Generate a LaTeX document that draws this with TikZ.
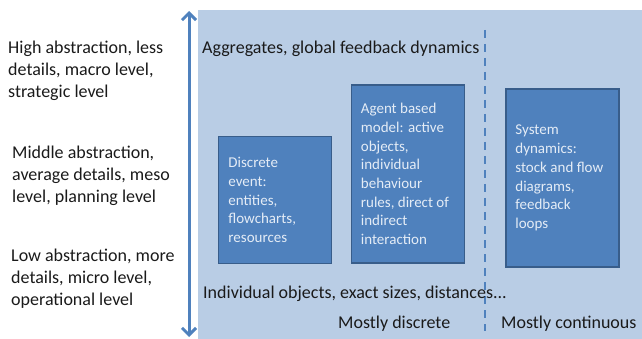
\documentclass[tikz,border=0pt]{standalone}
\usepackage{fontspec}
\setmainfont{Carlito}
\usetikzlibrary{arrows.meta}
\definecolor{bgblue}{HTML}{B9CDE5}
\definecolor{boxblue}{HTML}{4F81BD}
\definecolor{boxedge}{HTML}{385D8A}
\definecolor{boxtext}{HTML}{E4ECF6}
\definecolor{txt}{HTML}{1A1A1A}
\tikzset{
  bigtext/.style={font=\fontsize{18}{22}\selectfont, text=txt, align=left, inner sep=0pt, anchor=north west},
  modelbox/.style={draw=boxedge, line width=1.6pt, fill=boxblue, minimum width=113pt, inner sep=0pt},
  boxtextstyle/.style={text=boxtext, font=\fontsize{15}{18.7}\selectfont, align=left, inner sep=0pt, anchor=west},
  axisarrow/.style={draw=boxblue, line width=3pt, {Straight Barb[length=7pt,width=14pt,line width=3pt]}-{Straight Barb[length=7pt,width=14pt,line width=3pt]}},
  divider/.style={draw=boxblue, line width=1.8pt, dash pattern=on 8pt off 6pt}
}
\begin{document}
\begin{tikzpicture}[x=1pt,y=-1pt]
\useasboundingbox (0,0) rectangle (642,339);
\fill[bgblue] (198,10) rectangle (642,339);
% axis arrow
\coordinate (atop) at (189,11);
\coordinate (abot) at (189,337);
\draw[axisarrow] (abot) -- (atop);
% divider
\coordinate (dtop) at (485,30);
\coordinate (dbot) at (485,331);
\draw[divider] (dtop) -- (dbot);
% left labels
\node[bigtext] (high) at (8,41) {High abstraction, less\\details, macro level,\\strategic level};
\node[bigtext] (mid) at (12,146) {Middle abstraction,\\average details, meso\\level, planning level};
\node[bigtext] (low) at (11,249) {Low abstraction, more\\details, micro level,\\operational level};
% inside labels
\node[bigtext] (aggr) at (202,41) {Aggregates, global feedback dynamics};
\node[bigtext] (indiv) at (203,286) {Individual objects, exact sizes, distances...};
\node[bigtext] (disc) at (338,316) {Mostly discrete};
\node[bigtext] (cont) at (501,316) {Mostly continuous};
% model boxes
\node[modelbox, minimum height=127pt] (de) at (275,200) {};
\node[modelbox, minimum height=178pt] (ab) at (408,174) {};
\node[modelbox, minimum height=178pt] (sd) at (562.5,178) {};
\node[boxtextstyle] (detext) at ([xshift=10.5pt]de.west) {Discrete\\event:\\entities,\\flowcharts,\\resources};
\node[boxtextstyle] (abtext) at ([xshift=10pt]ab.west) {Agent based\\model: active\\objects,\\individual\\behaviour\\rules, direct of\\indirect\\interaction};
\node[boxtextstyle] (sdtext) at ([xshift=10pt]sd.west) {System\\dynamics:\\stock and flow\\diagrams,\\feedback\\loops};
\end{tikzpicture}
\end{document}
